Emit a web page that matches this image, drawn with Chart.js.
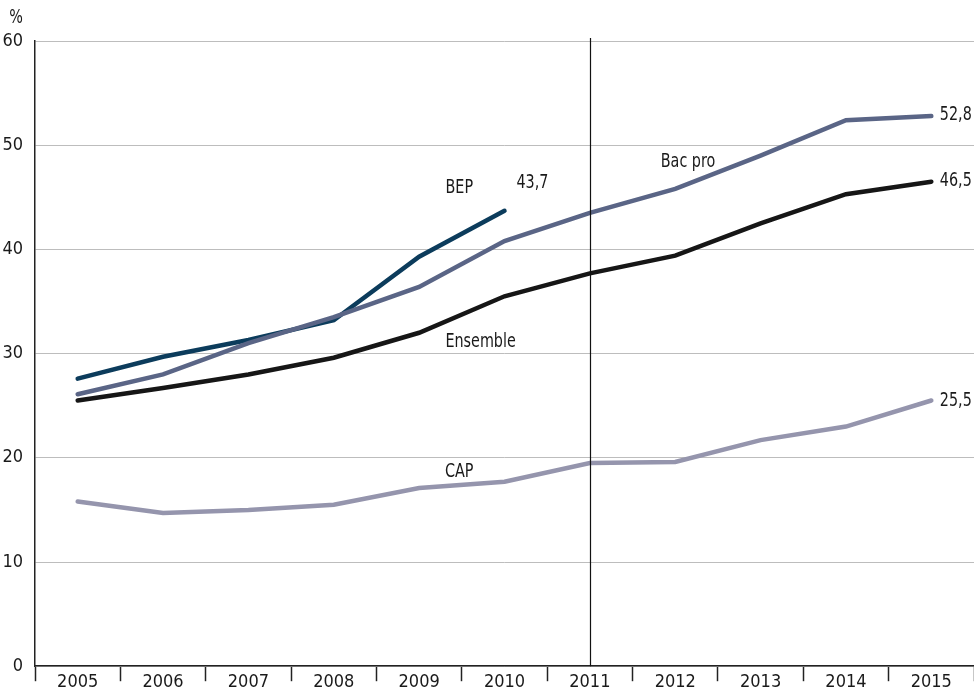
<!DOCTYPE html>
<html>
<head>
<meta charset="utf-8">
<script src="https://cdn.jsdelivr.net/npm/chart.js@4.4.1/dist/chart.umd.min.js"></script>
<style>
  html, body { margin: 0; padding: 0; background: #fff; }
  #wrap { width: 974px; height: 689px; position: relative; }
</style>
</head>
<body>
<div id="wrap"><canvas id="grafica"></canvas></div>
<script>
// Données (en %)
const annees = ["2005", "2006", "2007", "2008", "2009", "2010", "2011", "2012", "2013", "2014", "2015"];
const ensemble = [25.5, 26.7, 28.0, 29.6, 32.0, 35.5, 37.7, 39.4, 42.5, 45.3, 46.5];
const bacPro = [26.1, 28.0, 31.0, 33.5, 36.4, 40.8, 43.5, 45.8, 49.0, 52.4, 52.8];
const bep = [27.6, 29.7, 31.3, 33.2, 39.3, 43.7, null, null, null, null, null];
const cap = [15.8, 14.7, 15.0, 15.5, 17.1, 17.7, 19.5, 19.6, 21.7, 23.0, 25.5];
const ticksY = [0, 10, 20, 30, 40, 50, 60];

const police = "'DejaVu Sans Condensed', 'Liberation Sans Narrow', sans-serif";

// Étiquettes placées sur le graphique (texte, x en index de catégorie, y en valeur)
const etiquettes = [
  { texte: "BEP", x: 4.47, y: 45.9, align: "center" },
  { texte: "Bac pro", x: 7.15, y: 48.4, align: "center" },
  { texte: "Ensemble", x: 4.72, y: 31.1, align: "center" },
  { texte: "CAP", x: 4.47, y: 18.7, align: "center" },
  { texte: "43,7", x: 5.14, y: 46.4, align: "left" },
  { texte: "52,8", x: 10.1, y: 52.9, align: "left" },
  { texte: "46,5", x: 10.1, y: 46.6, align: "left" },
  { texte: "25,5", x: 10.1, y: 25.5, align: "left" }
];

// texte un peu resserré pour imiter la police étroite de l'original
function texteEtroit(ctx, t, x, y, align) {
  const k = 0.84;
  ctx.save();
  ctx.translate(x, y);
  ctx.scale(k, 1.05);
  ctx.textAlign = align;
  ctx.fillText(t, 0, 0);
  ctx.restore();
}

const pluginDecor = {
  id: "decor",
  afterDatasetsDraw(chart) {
    const { ctx, chartArea, scales } = chart;
    const x = scales.x, y = scales.y;
    ctx.save();
    // ligne verticale 2011
    const x2011 = Math.round(x.getPixelForValue(6)) + 0.5;
    ctx.strokeStyle = "#111";
    ctx.lineWidth = 1.2;
    ctx.beginPath();
    ctx.moveTo(x2011, chartArea.top - 3);
    ctx.lineTo(x2011, chartArea.bottom);
    ctx.stroke();
    // textes
    ctx.fillStyle = "#1a1a1a";
    ctx.font = "19px " + police;
    ctx.textBaseline = "middle";
    etiquettes.forEach(e => {
      texteEtroit(ctx, e.texte, x.getPixelForValue(e.x), y.getPixelForValue(e.y), e.align);
    });
    // unité
    texteEtroit(ctx, "%", 16, 18, "center");
    ctx.restore();
  }
};

function serie(data, couleur, epaisseur) {
  return {
    data: data,
    borderColor: couleur,
    borderWidth: epaisseur,
    pointRadius: 0,
    tension: 0,
    fill: false,
    spanGaps: false,
    borderCapStyle: "round",
    borderJoinStyle: "miter"
  };
}

new Chart(document.querySelector("#grafica"), {
  type: "line",
  data: {
    labels: annees,
    datasets: [
      serie(cap, "#9595ad", 4.5),
      serie(ensemble, "#161616", 4.5),
      serie(bacPro, "#5a6586", 4.5),
      serie(bep, "#0c3c5c", 4.5)
    ]
  },
  options: {
    responsive: true,
    maintainAspectRatio: false,
    animation: false,
    layout: { padding: { top: 41, right: 0, left: 0, bottom: 0 } },
    plugins: { legend: { display: false }, tooltip: { enabled: false } },
    scales: {
      x: {
        offset: true,
        afterFit(s) { s.height = 22; },
        grid: {
          offset: true,
          drawOnChartArea: false,
          drawTicks: true,
          tickLength: 15,
          tickColor: "#222",
          tickWidth: 1.5
        },
        border: { color: "#222", width: 1.5 },
        ticks: {
          color: "#1a1a1a",
          font: { family: police, size: 18 },
          padding: -10,
          maxRotation: 0,
          autoSkip: false
        }
      },
      y: {
        min: 0,
        max: 60,
        afterFit(s) { s.width = 35; },
        afterBuildTicks(s) { s.ticks = ticksY.map(v => ({ value: v })); },
        grid: { color: "#bdbdbd", lineWidth: 1, drawTicks: false },
        border: { color: "#222", width: 1.5 },
        ticks: {
          color: "#1a1a1a",
          font: { family: police, size: 18 },
          padding: 12
        }
      }
    }
  },
  plugins: [pluginDecor]
});
</script>
</body>
</html>
